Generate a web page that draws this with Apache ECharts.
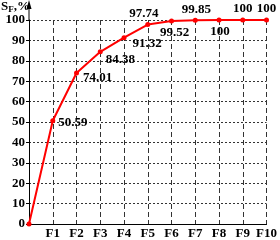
<!DOCTYPE html>
<html><head><meta charset="utf-8">
<script src="https://cdn.jsdelivr.net/npm/echarts@6/dist/echarts.min.js"></script>
<style>html,body{margin:0;padding:0;background:#fff}#c{width:280px;height:240px}</style>
</head><body><div id="c"></div>
<script>
const xPositions = [0,1,2,3,4,5,6,7,8,9,10];
const xTickLabels = ['', 'F1','F2','F3','F4','F5','F6','F7','F8','F9','F10'];
const sfValues = [0, 50.59, 74.01, 84.38, 91.32, 97.74, 99.52, 99.85, 100, 100, 100];
const labelTexts = ['', '50.59','74.01','84.38','91.32','97.74','99.52','99.85','100','100','100'];
const labelPlaces = ['none','right','right','right','right','top','bottom','top','bottom','top','top'];
const labelShifts = [[0,0],[0,2],[1,5],[0,8],[3,6],[-4,1],[3,0],[1,1],[1,0],[0,1],[0,1]];

const font = '"Liberation Serif","DejaVu Serif",serif';
const data = xPositions.map((x,i)=>{
  const d = {value:[x, sfValues[i]]};
  if (labelPlaces[i] === 'none') d.label = {show:false};
  else d.label = {show:true, formatter: labelTexts[i], position: labelPlaces[i]};
  return d;
});

const chart = echarts.init(document.getElementById('c'), null, {renderer:'canvas'});
chart.setOption({
  animation:false,
  grid:{left:29, right:11, top:20, bottom:16},
  xAxis:{type:'value', min:0, max:10, interval:1,
    axisLine:{show:true, lineStyle:{color:'#000', width:1}},
    axisTick:{show:false},
    axisLabel:{formatter:v=>xTickLabels[v]||'', color:'#000', fontFamily:font, fontWeight:'bold', fontSize:13, margin:3},
    splitLine:{show:true, lineStyle:{color:'#333', type:[5,3], width:1}}
  },
  yAxis:{type:'value', min:0, max:100, interval:10,
    axisLine:{show:true, lineStyle:{color:'#000', width:1}},
    axisTick:{show:true, length:3, lineStyle:{color:'#000'}},
    axisLabel:{color:'#000', fontFamily:font, fontWeight:'bold', fontSize:13, margin:4},
    splitLine:{show:true, lineStyle:{color:'#333', type:[2,2], width:1}}
  },
  series:[{type:'line', data:data, symbol:'circle', symbolSize:5,
    lineStyle:{color:'#ff0000', width:2}, itemStyle:{color:'#ff0000'},
    label:{color:'#000', fontFamily:font, fontWeight:'bold', fontSize:13, distance:3},
    labelLayout:function(p){ const s = labelShifts[p.dataIndex]; return {dx:s[0], dy:s[1], hideOverlap:false}; }
  }]
});
const axTop = chart.convertToPixel({gridIndex:0},[0,100]);
chart.setOption({graphic:[
  {type:'line', shape:{x1:axTop[0], y1:axTop[1], x2:axTop[0], y2:4}, style:{stroke:'#000', lineWidth:1}},
  {type:'polygon', shape:{points:[[axTop[0]-2.5,9],[axTop[0]+2.5,9],[axTop[0],0]]}, style:{fill:'#000'}},
  {type:'text', left:1, top:0, style:{text:'{s|S}{sub|F}{s|,%}', rich:{
    s:{fontFamily:font, fontSize:13, fontWeight:'bold', fill:'#000'},
    sub:{fontFamily:font, fontSize:9, fontWeight:'bold', fill:'#000', padding:[6,0,0,0]}
  }}}
]});
</script></body></html>
